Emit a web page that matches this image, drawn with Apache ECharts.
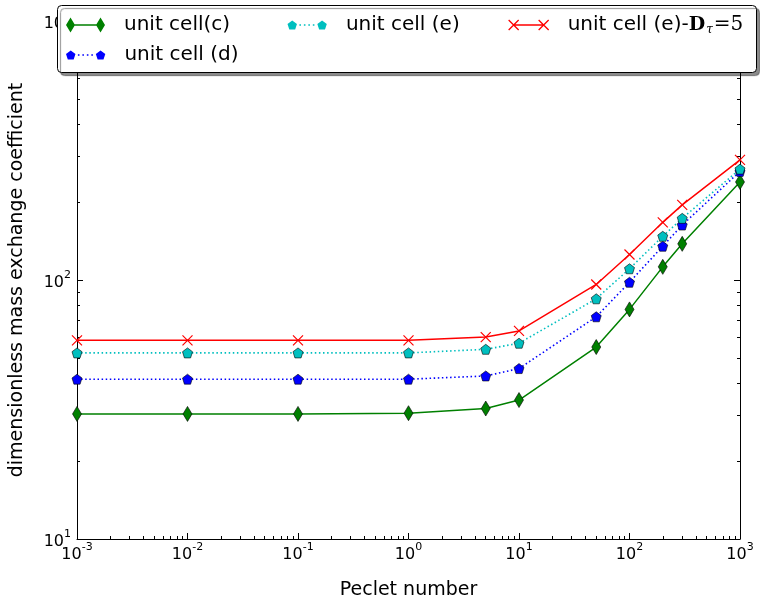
<!DOCTYPE html>
<html><head><meta charset="utf-8">
<script src="https://cdn.jsdelivr.net/npm/echarts@6/dist/echarts.min.js"></script>
<style>html,body{margin:0;padding:0;background:#fff}#c{width:760px;height:605px}</style>
</head><body><div id="c"></div>
<script>
// ---- data ----
const pecletNumbers = [0.001, 0.01, 0.1, 1, 5, 10, 50, 100, 200, 300, 1000];
const cellC   = [30.4, 30.4, 30.4, 30.6, 31.9, 34.4, 55.1, 77.0, 112.4, 137.9, 239];
const cellD   = [41.4, 41.4, 41.4, 41.4, 42.6, 45.5, 72.1, 98.0, 135, 163, 262.6];
const cellE   = [52.3, 52.3, 52.3, 52.3, 54.0, 57.0, 84.6, 110.5, 147.5, 173, 268];
const cellED5 = [58.5, 58.5, 58.5, 58.5, 60.2, 63.6, 96.1, 125.4, 167, 195, 291];
const seriesNames = ['unit cell(c)', 'unit cell (d)', 'unit cell (e)', 'unit cell (e)-D\u03c4=5'];
const xTitle = 'Peclet number';
const yTitle = 'dimensionless mass exchange coefficient';
const xRange = [0.001, 1000];
const yRange = [10, 1000];

// ---- styling ----
const FONT = 'DejaVu Sans';
const C_GREEN = '#008000', C_BLUE = '#0000ff', C_CYAN = '#00bfbf', C_RED = '#ff0000';
const PENTAGON = 'path://M0,-10L9.511,-3.09L5.878,8.09L-5.878,8.09L-9.511,-3.09Z';
const XMARK = 'path://M0,0L10,10M10,0L0,10';

function pairs(ys) { return pecletNumbers.map((x, i) => [x, ys[i]]); }
function powLabel(v) { const e = Math.round(Math.log10(v)); return '{b|10}{s|' + e + '}'; }

const labelRich = {
  b: { fontSize: 16, lineHeight: 18, fontFamily: FONT, color: '#000' },
  s: { fontSize: 11, lineHeight: 12, fontFamily: FONT, color: '#000', padding: [0, 0, 16, 0] }
};

function axisCommon(extra) {
  return Object.assign({
    type: 'log', logBase: 10,
    axisLine: { show: true, onZero: false, lineStyle: { color: '#000', width: 1 } },
    axisTick: { show: true, inside: true, length: 6, lineStyle: { color: '#000', width: 1 } },
    minorTick: { show: true, splitNumber: 9, length: 3, lineStyle: { color: '#000', width: 1 } },
    splitLine: { show: false }, minorSplitLine: { show: false }
  }, extra);
}

// legend icons (drawn with the series colours)
const ICON_C = 'path://M0.5,7.5L5,0L9.5,7.5L5,15ZM30.5,7.5L35,0L39.5,7.5L35,15ZM5,6.8L35,6.8L35,8.2L5,8.2Z';
const dots = 'M12.2,3.8h1.6v1.6h-1.6ZM16.7,3.8h1.6v1.6h-1.6ZM21.2,3.8h1.6v1.6h-1.6ZM25.7,3.8h1.6v1.6h-1.6Z';
const ICON_P = 'path://M5,0L9.76,3.45L7.94,9.05L2.06,9.05L0.24,3.45ZM35,0L39.76,3.45L37.94,9.05L32.06,9.05L30.24,3.45Z' + dots;
const ICON_X = 'path://M0,0L10,10M10,0L0,10M30,0L40,10M40,0L30,10M5,5L35,5';

const legendText = { fontSize: 20, lineHeight: 24, fontFamily: FONT, color: '#000', padding: [0, 0, 0, 14] };
function mkLegend(name, icon, left, top, w, h, style, extra) {
  return Object.assign({
    show: true, orient: 'horizontal', left: left, top: top, padding: 0, z: 60,
    selectedMode: false, itemWidth: w, itemHeight: h,
    textStyle: legendText,
    data: [{ name: name, icon: icon, itemStyle: style }]
  }, extra || {});
}

const chart = echarts.init(document.getElementById('c'), null, { renderer: 'canvas' });
chart.setOption({
  animation: false,
  backgroundColor: '#fff',
  grid: { left: 75, right: 20, top: 21, bottom: 65, containLabel: false },
  xAxis: [
    axisCommon({
      gridIndex: 0, position: 'bottom', min: xRange[0], max: xRange[1],
      name: xTitle, nameLocation: 'middle', nameGap: 42,
      nameTextStyle: { fontSize: 19, fontFamily: FONT, color: '#000' },
      axisLabel: { margin: 7, formatter: powLabel, rich: labelRich, color: '#000' }
    }),
    axisCommon({
      gridIndex: 0, position: 'top', min: xRange[0], max: xRange[1],
      axisLabel: { show: false }
    })
  ],
  yAxis: [
    axisCommon({
      gridIndex: 0, position: 'left', min: yRange[0], max: yRange[1],
      name: yTitle, nameLocation: 'middle', nameGap: 50,
      nameTextStyle: { fontSize: 19, fontFamily: FONT, color: '#000' },
      axisLabel: { margin: 6, formatter: powLabel, rich: labelRich, color: '#000', padding: [6, 0, 0, 0] }
    }),
    axisCommon({
      gridIndex: 0, position: 'right', min: yRange[0], max: yRange[1],
      axisLabel: { show: false }
    })
  ],
  legend: [
    mkLegend(seriesNames[0], ICON_C, 66, 13, 39, 15, { color: C_GREEN, borderWidth: 0 }),
    mkLegend(seriesNames[1], ICON_P, 66, 43, 39.5, 9, { color: C_BLUE, borderWidth: 0 }),
    mkLegend(seriesNames[2], ICON_P, 287.5, 13, 39.5, 9, { color: C_CYAN, borderWidth: 0 }),
    mkLegend(seriesNames[3], ICON_X, 508, 13, 40, 10, { color: C_RED, borderColor: C_RED, borderWidth: 1.3 }, {
      formatter: function () { return 'unit cell (e)-{D|D}{t|\u03c4}{q|=5}'; },
      textStyle: Object.assign({}, legendText, {
        rich: {
          D: { fontFamily: 'DejaVu Serif', fontWeight: 'bold', fontSize: 19, color: '#000' },
          t: { fontFamily: 'DejaVu Serif', fontStyle: 'italic', fontSize: 12, color: '#000', padding: [10, 1, 0, 1] },
          q: { fontFamily: 'DejaVu Serif', fontSize: 20, color: '#000' }
        }
      })
    })
  ],
  graphic: [{
    type: 'rect', z: 50, silent: true,
    shape: { x: 57.5, y: 5.5, width: 699, height: 67, r: 4 },
    style: { fill: '#fff', stroke: '#000', lineWidth: 1, shadowColor: 'rgba(0,0,0,0.45)', shadowOffsetX: 3, shadowOffsetY: 3, shadowBlur: 1 }
  }],
  series: [
    {
      name: seriesNames[0], type: 'line', data: pairs(cellC),
      symbol: 'diamond', symbolSize: [9, 15],
      itemStyle: { color: C_GREEN, borderColor: '#000', borderWidth: 0.6 },
      lineStyle: { color: C_GREEN, width: 1.5 }, emphasis: { disabled: true }
    },
    {
      name: seriesNames[1], type: 'line', data: pairs(cellD),
      symbol: PENTAGON, symbolSize: 10,
      itemStyle: { color: C_BLUE, borderColor: '#000', borderWidth: 0.6 },
      lineStyle: { color: C_BLUE, width: 1.6, type: [1.5, 2.6] }, emphasis: { disabled: true }
    },
    {
      name: seriesNames[2], type: 'line', data: pairs(cellE),
      symbol: PENTAGON, symbolSize: 10,
      itemStyle: { color: C_CYAN, borderColor: '#000', borderWidth: 0.6 },
      lineStyle: { color: C_CYAN, width: 1.6, type: [1.5, 2.6] }, emphasis: { disabled: true }
    },
    {
      name: seriesNames[3], type: 'line', data: pairs(cellED5),
      symbol: XMARK, symbolSize: 10,
      itemStyle: { color: C_RED, borderColor: C_RED, borderWidth: 1.2 },
      lineStyle: { color: C_RED, width: 1.5 }, emphasis: { disabled: true }
    }
  ]
});
</script>
</body></html>
